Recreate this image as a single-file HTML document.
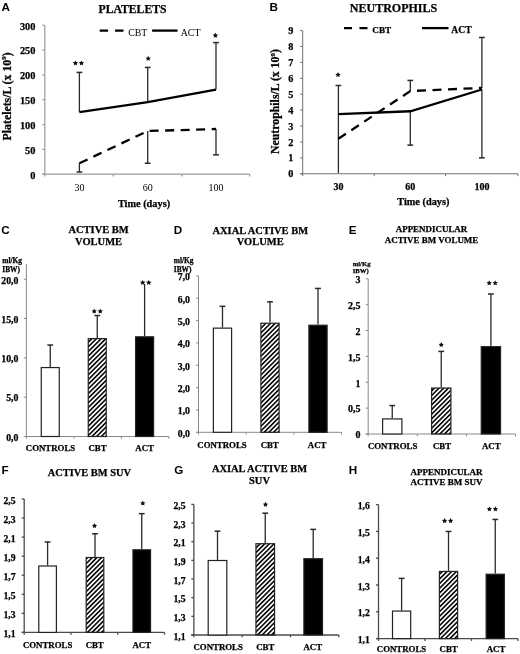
<!DOCTYPE html>
<html><head><meta charset="utf-8"><title>Figure</title>
<style>
html,body{margin:0;padding:0;background:#fff;}
svg{display:block;will-change:transform;}
</style></head>
<body>
<svg width="520" height="654" viewBox="0 0 520 654">
<defs>
<pattern id="hatch" patternUnits="userSpaceOnUse" width="3.3" height="3.3" patternTransform="rotate(45)">
<rect x="0" y="0" width="1.55" height="3.3" fill="#000"/>
</pattern>
</defs>
<rect width="520" height="654" fill="#fff"/>
<text x="1.50" y="11.20" font-family='"Liberation Sans", sans-serif' font-size="11.7" font-weight="bold" text-anchor="start" >A</text>
<text x="132.50" y="12.60" font-family='"Liberation Serif", serif' font-size="11.7" font-weight="bold" text-anchor="middle" stroke="#000" stroke-width="0.25" >PLATELETS</text>
<line x1="44.85" y1="25.22" x2="44.85" y2="176.50" stroke="#9a9a9a" stroke-width="1.2" />
<line x1="42.35" y1="174.20" x2="249.60" y2="174.20" stroke="#9a9a9a" stroke-width="1.2" />
<line x1="42.35" y1="174.20" x2="44.85" y2="174.20" stroke="#9a9a9a" stroke-width="1.2" />
<text x="35.50" y="178.60" font-family='"Liberation Serif", serif' font-size="10.4" font-weight="bold" text-anchor="end" stroke="#000" stroke-width="0.25" >0</text>
<line x1="42.35" y1="149.37" x2="44.85" y2="149.37" stroke="#9a9a9a" stroke-width="1.2" />
<text x="35.50" y="153.77" font-family='"Liberation Serif", serif' font-size="10.4" font-weight="bold" text-anchor="end" stroke="#000" stroke-width="0.25" >50</text>
<line x1="42.35" y1="124.54" x2="44.85" y2="124.54" stroke="#9a9a9a" stroke-width="1.2" />
<text x="35.50" y="128.94" font-family='"Liberation Serif", serif' font-size="10.4" font-weight="bold" text-anchor="end" stroke="#000" stroke-width="0.25" >100</text>
<line x1="42.35" y1="99.71" x2="44.85" y2="99.71" stroke="#9a9a9a" stroke-width="1.2" />
<text x="35.50" y="104.11" font-family='"Liberation Serif", serif' font-size="10.4" font-weight="bold" text-anchor="end" stroke="#000" stroke-width="0.25" >150</text>
<line x1="42.35" y1="74.88" x2="44.85" y2="74.88" stroke="#9a9a9a" stroke-width="1.2" />
<text x="35.50" y="79.28" font-family='"Liberation Serif", serif' font-size="10.4" font-weight="bold" text-anchor="end" stroke="#000" stroke-width="0.25" >200</text>
<line x1="42.35" y1="50.05" x2="44.85" y2="50.05" stroke="#9a9a9a" stroke-width="1.2" />
<text x="35.50" y="54.45" font-family='"Liberation Serif", serif' font-size="10.4" font-weight="bold" text-anchor="end" stroke="#000" stroke-width="0.25" >250</text>
<line x1="42.35" y1="25.22" x2="44.85" y2="25.22" stroke="#9a9a9a" stroke-width="1.2" />
<text x="35.50" y="29.62" font-family='"Liberation Serif", serif' font-size="10.4" font-weight="bold" text-anchor="end" stroke="#000" stroke-width="0.25" >300</text>
<line x1="113.30" y1="174.20" x2="113.30" y2="176.50" stroke="#9a9a9a" stroke-width="1.2" />
<line x1="181.80" y1="174.20" x2="181.80" y2="176.50" stroke="#9a9a9a" stroke-width="1.2" />
<line x1="249.60" y1="174.20" x2="249.60" y2="176.50" stroke="#9a9a9a" stroke-width="1.2" />
<text x="79.40" y="190.50" font-family='"Liberation Serif", serif' font-size="10" font-weight="normal" text-anchor="middle" >30</text>
<text x="147.70" y="190.50" font-family='"Liberation Serif", serif' font-size="10" font-weight="normal" text-anchor="middle" >60</text>
<text x="216.00" y="190.50" font-family='"Liberation Serif", serif' font-size="10" font-weight="normal" text-anchor="middle" >100</text>
<text x="144.00" y="206.80" font-family='"Liberation Serif", serif' font-size="10.3" font-weight="bold" text-anchor="middle" stroke="#000" stroke-width="0.25" >Time (days)</text>
<text x="11.00" y="96.40" font-family='"Liberation Serif", serif' font-size="11.8" font-weight="bold" text-anchor="middle" stroke="#000" stroke-width="0.25" transform="rotate(-90 11.0 96.4)">Platelets/L (x 10<tspan font-size="7" dy="-4.5">9</tspan><tspan dy="4.5">)</tspan></text>
<line x1="99.70" y1="30.60" x2="124.00" y2="30.60" stroke="#000" stroke-width="2.3" stroke-dasharray="8.4 7"/>
<text x="128.20" y="35.80" font-family='"Liberation Serif", serif' font-size="9.9" font-weight="normal" text-anchor="start" >CBT</text>
<line x1="152.10" y1="30.60" x2="177.50" y2="30.60" stroke="#000" stroke-width="2.3" />
<text x="180.70" y="35.80" font-family='"Liberation Serif", serif' font-size="9.9" font-weight="normal" text-anchor="start" >ACT</text>
<line x1="79.40" y1="112.12" x2="79.40" y2="72.40" stroke="#2a2a2a" stroke-width="1.3" />
<line x1="76.50" y1="72.40" x2="82.30" y2="72.40" stroke="#2a2a2a" stroke-width="1.5" />
<line x1="147.70" y1="102.19" x2="147.70" y2="67.43" stroke="#2a2a2a" stroke-width="1.3" />
<line x1="144.80" y1="67.43" x2="150.60" y2="67.43" stroke="#2a2a2a" stroke-width="1.5" />
<line x1="216.00" y1="89.53" x2="216.00" y2="42.60" stroke="#2a2a2a" stroke-width="1.3" />
<line x1="213.10" y1="42.60" x2="218.90" y2="42.60" stroke="#2a2a2a" stroke-width="1.5" />
<polyline points="79.40,112.12 147.70,102.19 216.00,89.53" fill="none" stroke="#000" stroke-width="2.3"/>
<line x1="79.40" y1="163.27" x2="79.40" y2="171.97" stroke="#2a2a2a" stroke-width="1.3" />
<line x1="76.50" y1="171.97" x2="82.30" y2="171.97" stroke="#2a2a2a" stroke-width="1.5" />
<line x1="147.70" y1="131.00" x2="147.70" y2="163.27" stroke="#2a2a2a" stroke-width="1.3" />
<line x1="144.80" y1="163.27" x2="150.60" y2="163.27" stroke="#2a2a2a" stroke-width="1.5" />
<line x1="216.00" y1="129.01" x2="216.00" y2="154.83" stroke="#2a2a2a" stroke-width="1.3" />
<line x1="213.10" y1="154.83" x2="218.90" y2="154.83" stroke="#2a2a2a" stroke-width="1.5" />
<polyline points="79.40,163.27 147.70,131.00 216.00,129.01" fill="none" stroke="#000" stroke-width="2.3" stroke-dasharray="9 6.5"/>
<polygon points="75.45,60.40 76.27,62.07 78.11,62.33 76.78,63.63 77.10,65.47 75.45,64.60 73.80,65.47 74.12,63.63 72.79,62.33 74.63,62.07" fill="#111"/>
<polygon points="81.45,60.40 82.27,62.07 84.11,62.33 82.78,63.63 83.10,65.47 81.45,64.60 79.80,65.47 80.12,63.63 78.79,62.33 80.63,62.07" fill="#111"/>
<polygon points="148.20,55.80 149.02,57.47 150.86,57.73 149.53,59.03 149.85,60.87 148.20,60.00 146.55,60.87 146.87,59.03 145.54,57.73 147.38,57.47" fill="#111"/>
<polygon points="215.40,32.70 216.22,34.37 218.06,34.63 216.73,35.93 217.05,37.77 215.40,36.90 213.75,37.77 214.07,35.93 212.74,34.63 214.58,34.37" fill="#111"/>
<text x="269.50" y="10.80" font-family='"Liberation Sans", sans-serif' font-size="11.7" font-weight="bold" text-anchor="start" >B</text>
<text x="393.50" y="12.40" font-family='"Liberation Serif", serif' font-size="12.0" font-weight="bold" text-anchor="middle" stroke="#000" stroke-width="0.25" >NEUTROPHILS</text>
<line x1="302.70" y1="30.65" x2="302.70" y2="176.05" stroke="#707070" stroke-width="1.0" />
<line x1="300.20" y1="173.75" x2="518.00" y2="173.75" stroke="#707070" stroke-width="1.0" />
<line x1="300.20" y1="173.75" x2="302.70" y2="173.75" stroke="#707070" stroke-width="1.0" />
<text x="293.30" y="177.35" font-family='"Liberation Serif", serif' font-size="10.2" font-weight="bold" text-anchor="end" stroke="#000" stroke-width="0.25" >0</text>
<line x1="300.20" y1="157.85" x2="302.70" y2="157.85" stroke="#707070" stroke-width="1.0" />
<text x="293.30" y="161.45" font-family='"Liberation Serif", serif' font-size="10.2" font-weight="bold" text-anchor="end" stroke="#000" stroke-width="0.25" >1</text>
<line x1="300.20" y1="141.95" x2="302.70" y2="141.95" stroke="#707070" stroke-width="1.0" />
<text x="293.30" y="145.55" font-family='"Liberation Serif", serif' font-size="10.2" font-weight="bold" text-anchor="end" stroke="#000" stroke-width="0.25" >2</text>
<line x1="300.20" y1="126.05" x2="302.70" y2="126.05" stroke="#707070" stroke-width="1.0" />
<text x="293.30" y="129.65" font-family='"Liberation Serif", serif' font-size="10.2" font-weight="bold" text-anchor="end" stroke="#000" stroke-width="0.25" >3</text>
<line x1="300.20" y1="110.15" x2="302.70" y2="110.15" stroke="#707070" stroke-width="1.0" />
<text x="293.30" y="113.75" font-family='"Liberation Serif", serif' font-size="10.2" font-weight="bold" text-anchor="end" stroke="#000" stroke-width="0.25" >4</text>
<line x1="300.20" y1="94.25" x2="302.70" y2="94.25" stroke="#707070" stroke-width="1.0" />
<text x="293.30" y="97.85" font-family='"Liberation Serif", serif' font-size="10.2" font-weight="bold" text-anchor="end" stroke="#000" stroke-width="0.25" >5</text>
<line x1="300.20" y1="78.35" x2="302.70" y2="78.35" stroke="#707070" stroke-width="1.0" />
<text x="293.30" y="81.95" font-family='"Liberation Serif", serif' font-size="10.2" font-weight="bold" text-anchor="end" stroke="#000" stroke-width="0.25" >6</text>
<line x1="300.20" y1="62.45" x2="302.70" y2="62.45" stroke="#707070" stroke-width="1.0" />
<text x="293.30" y="66.05" font-family='"Liberation Serif", serif' font-size="10.2" font-weight="bold" text-anchor="end" stroke="#000" stroke-width="0.25" >7</text>
<line x1="300.20" y1="46.55" x2="302.70" y2="46.55" stroke="#707070" stroke-width="1.0" />
<text x="293.30" y="50.15" font-family='"Liberation Serif", serif' font-size="10.2" font-weight="bold" text-anchor="end" stroke="#000" stroke-width="0.25" >8</text>
<line x1="300.20" y1="30.65" x2="302.70" y2="30.65" stroke="#707070" stroke-width="1.0" />
<text x="293.30" y="34.25" font-family='"Liberation Serif", serif' font-size="10.2" font-weight="bold" text-anchor="end" stroke="#000" stroke-width="0.25" >9</text>
<line x1="374.20" y1="173.75" x2="374.20" y2="176.05" stroke="#707070" stroke-width="1.0" />
<line x1="445.60" y1="173.75" x2="445.60" y2="176.05" stroke="#707070" stroke-width="1.0" />
<line x1="518.00" y1="173.75" x2="518.00" y2="176.05" stroke="#707070" stroke-width="1.0" />
<text x="338.40" y="189.80" font-family='"Liberation Serif", serif' font-size="10" font-weight="bold" text-anchor="middle" stroke="#000" stroke-width="0.25" >30</text>
<text x="410.30" y="189.80" font-family='"Liberation Serif", serif' font-size="10" font-weight="bold" text-anchor="middle" stroke="#000" stroke-width="0.25" >60</text>
<text x="481.90" y="189.80" font-family='"Liberation Serif", serif' font-size="10" font-weight="bold" text-anchor="middle" stroke="#000" stroke-width="0.25" >100</text>
<text x="423.30" y="204.80" font-family='"Liberation Serif", serif' font-size="10.3" font-weight="bold" text-anchor="middle" stroke="#000" stroke-width="0.25" >Time (days)</text>
<text x="279.00" y="101.50" font-family='"Liberation Serif", serif' font-size="11.8" font-weight="bold" text-anchor="middle" stroke="#000" stroke-width="0.25" transform="rotate(-90 279.0 101.5)">Neutrophils/L (x 10<tspan font-size="7" dy="-4.5">9</tspan><tspan dy="4.5">)</tspan></text>
<line x1="344.00" y1="28.10" x2="367.50" y2="28.10" stroke="#000" stroke-width="2.3" stroke-dasharray="8 7.5"/>
<text x="372.30" y="32.70" font-family='"Liberation Serif", serif' font-size="9.2" font-weight="bold" text-anchor="start" stroke="#000" stroke-width="0.25" >CBT</text>
<line x1="422.00" y1="28.10" x2="448.50" y2="28.10" stroke="#000" stroke-width="2.3" />
<text x="451.30" y="32.70" font-family='"Liberation Serif", serif' font-size="9.6" font-weight="bold" text-anchor="start" stroke="#000" stroke-width="0.25" >ACT</text>
<line x1="338.40" y1="172.96" x2="338.40" y2="85.50" stroke="#2a2a2a" stroke-width="1.3" />
<line x1="335.50" y1="85.50" x2="341.30" y2="85.50" stroke="#2a2a2a" stroke-width="1.5" />
<line x1="410.30" y1="111.26" x2="410.30" y2="145.13" stroke="#2a2a2a" stroke-width="1.3" />
<line x1="407.40" y1="145.13" x2="413.20" y2="145.13" stroke="#2a2a2a" stroke-width="1.5" />
<line x1="410.30" y1="91.07" x2="410.30" y2="80.42" stroke="#2a2a2a" stroke-width="1.3" />
<line x1="407.40" y1="80.42" x2="413.20" y2="80.42" stroke="#2a2a2a" stroke-width="1.5" />
<line x1="481.90" y1="87.89" x2="481.90" y2="37.49" stroke="#2a2a2a" stroke-width="1.3" />
<line x1="479.00" y1="37.49" x2="484.80" y2="37.49" stroke="#2a2a2a" stroke-width="1.5" />
<line x1="481.90" y1="89.48" x2="481.90" y2="157.85" stroke="#2a2a2a" stroke-width="1.3" />
<line x1="479.00" y1="157.85" x2="484.80" y2="157.85" stroke="#2a2a2a" stroke-width="1.5" />
<polyline points="338.40,114.12 410.30,111.26 481.90,89.48" fill="none" stroke="#000" stroke-width="2.3"/>
<polyline points="338.40,138.77 410.30,91.07 481.90,87.89" fill="none" stroke="#000" stroke-width="2.3" stroke-dasharray="9 6.5"/>
<polygon points="338.00,72.00 338.82,73.67 340.66,73.93 339.33,75.23 339.65,77.07 338.00,76.20 336.35,77.07 336.67,75.23 335.34,73.93 337.18,73.67" fill="#111"/>
<text x="1.25" y="234.00" font-family='"Liberation Sans", sans-serif' font-size="11.7" font-weight="bold" text-anchor="start" >C</text>
<text x="98.60" y="233.30" font-family='"Liberation Serif", serif' font-size="10.5" font-weight="bold" text-anchor="middle" stroke="#000" stroke-width="0.25" >ACTIVE BM</text>
<text x="98.60" y="244.80" font-family='"Liberation Serif", serif' font-size="10.5" font-weight="bold" text-anchor="middle" stroke="#000" stroke-width="0.25" >VOLUME</text>
<text x="2.30" y="263.00" font-family='"Liberation Serif", serif' font-size="7.4" font-weight="bold" text-anchor="start" stroke="#000" stroke-width="0.25" >ml/Kg</text>
<text x="2.30" y="271.50" font-family='"Liberation Serif", serif' font-size="7.4" font-weight="bold" text-anchor="start" stroke="#000" stroke-width="0.25" >IBW)</text>
<line x1="26.40" y1="264.20" x2="26.40" y2="438.80" stroke="#8a8a8a" stroke-width="1.0" />
<line x1="23.90" y1="436.50" x2="168.90" y2="436.50" stroke="#8a8a8a" stroke-width="1.0" />
<line x1="23.90" y1="436.50" x2="26.40" y2="436.50" stroke="#8a8a8a" stroke-width="1.0" />
<text x="18.40" y="440.80" font-family='"Liberation Serif", serif' font-size="9.8" font-weight="bold" text-anchor="end" stroke="#000" stroke-width="0.25" >0,0</text>
<line x1="23.90" y1="397.18" x2="26.40" y2="397.18" stroke="#8a8a8a" stroke-width="1.0" />
<text x="18.40" y="401.48" font-family='"Liberation Serif", serif' font-size="9.8" font-weight="bold" text-anchor="end" stroke="#000" stroke-width="0.25" >5,0</text>
<line x1="23.90" y1="357.85" x2="26.40" y2="357.85" stroke="#8a8a8a" stroke-width="1.0" />
<text x="18.40" y="362.15" font-family='"Liberation Serif", serif' font-size="9.8" font-weight="bold" text-anchor="end" stroke="#000" stroke-width="0.25" >10,0</text>
<line x1="23.90" y1="318.52" x2="26.40" y2="318.52" stroke="#8a8a8a" stroke-width="1.0" />
<text x="18.40" y="322.82" font-family='"Liberation Serif", serif' font-size="9.8" font-weight="bold" text-anchor="end" stroke="#000" stroke-width="0.25" >15,0</text>
<line x1="23.90" y1="279.20" x2="26.40" y2="279.20" stroke="#8a8a8a" stroke-width="1.0" />
<text x="18.40" y="283.50" font-family='"Liberation Serif", serif' font-size="9.8" font-weight="bold" text-anchor="end" stroke="#000" stroke-width="0.25" >20,0</text>
<line x1="73.90" y1="436.50" x2="73.90" y2="438.80" stroke="#8a8a8a" stroke-width="1.0" />
<line x1="121.40" y1="436.50" x2="121.40" y2="438.80" stroke="#8a8a8a" stroke-width="1.0" />
<line x1="168.90" y1="436.50" x2="168.90" y2="438.80" stroke="#8a8a8a" stroke-width="1.0" />
<line x1="50.25" y1="366.97" x2="50.25" y2="345.03" stroke="#2a2a2a" stroke-width="1.3" />
<line x1="47.35" y1="345.03" x2="53.15" y2="345.03" stroke="#2a2a2a" stroke-width="1.5" />
<line x1="97.25" y1="338.03" x2="97.25" y2="315.54" stroke="#2a2a2a" stroke-width="1.3" />
<line x1="94.35" y1="315.54" x2="100.15" y2="315.54" stroke="#2a2a2a" stroke-width="1.5" />
<line x1="144.60" y1="336.22" x2="144.60" y2="283.92" stroke="#2a2a2a" stroke-width="1.3" />
<rect x="41.25" y="367.57" width="18.00" height="68.93" fill="#fff" stroke="#222" stroke-width="1.2"/>
<rect x="88.25" y="338.63" width="18.00" height="97.87" fill="url(#hatch)" stroke="#222" stroke-width="1.2"/>
<rect x="135.60" y="336.82" width="18.00" height="99.68" fill="#000" stroke="#222" stroke-width="1.2"/>
<polygon points="94.25,308.50 95.07,310.17 96.91,310.43 95.58,311.73 95.90,313.57 94.25,312.70 92.60,313.57 92.92,311.73 91.59,310.43 93.43,310.17" fill="#111"/>
<polygon points="100.25,308.50 101.07,310.17 102.91,310.43 101.58,311.73 101.90,313.57 100.25,312.70 98.60,313.57 98.92,311.73 97.59,310.43 99.43,310.17" fill="#111"/>
<polygon points="142.70,279.90 143.52,281.57 145.36,281.83 144.03,283.13 144.35,284.97 142.70,284.10 141.05,284.97 141.37,283.13 140.04,281.83 141.88,281.57" fill="#111"/>
<polygon points="148.70,279.90 149.52,281.57 151.36,281.83 150.03,283.13 150.35,284.97 148.70,284.10 147.05,284.97 147.37,283.13 146.04,281.83 147.88,281.57" fill="#111"/>
<text x="50.50" y="451.30" font-family='"Liberation Serif", serif' font-size="8.8" font-weight="bold" text-anchor="middle" stroke="#000" stroke-width="0.25" >CONTROLS</text>
<text x="97.50" y="451.30" font-family='"Liberation Serif", serif' font-size="8.8" font-weight="bold" text-anchor="middle" stroke="#000" stroke-width="0.25" >CBT</text>
<text x="144.60" y="451.30" font-family='"Liberation Serif", serif' font-size="8.8" font-weight="bold" text-anchor="middle" stroke="#000" stroke-width="0.25" >ACT</text>
<text x="173.75" y="233.75" font-family='"Liberation Sans", sans-serif' font-size="11.7" font-weight="bold" text-anchor="start" >D</text>
<text x="260.25" y="233.60" font-family='"Liberation Serif", serif' font-size="10.5" font-weight="bold" text-anchor="middle" stroke="#000" stroke-width="0.25" >AXIAL ACTIVE BM</text>
<text x="260.25" y="245.30" font-family='"Liberation Serif", serif' font-size="10.5" font-weight="bold" text-anchor="middle" stroke="#000" stroke-width="0.25" >VOLUME</text>
<text x="173.75" y="263.00" font-family='"Liberation Serif", serif' font-size="7.4" font-weight="bold" text-anchor="start" stroke="#000" stroke-width="0.25" >ml/Kg</text>
<text x="173.75" y="271.50" font-family='"Liberation Serif", serif' font-size="7.4" font-weight="bold" text-anchor="start" stroke="#000" stroke-width="0.25" >IBW)</text>
<line x1="198.50" y1="275.90" x2="198.50" y2="434.60" stroke="#8a8a8a" stroke-width="1.0" />
<line x1="196.00" y1="432.30" x2="341.50" y2="432.30" stroke="#8a8a8a" stroke-width="1.0" />
<line x1="196.00" y1="432.30" x2="198.50" y2="432.30" stroke="#8a8a8a" stroke-width="1.0" />
<text x="190.00" y="436.60" font-family='"Liberation Serif", serif' font-size="9.8" font-weight="bold" text-anchor="end" stroke="#000" stroke-width="0.25" >0,0</text>
<line x1="196.00" y1="409.96" x2="198.50" y2="409.96" stroke="#8a8a8a" stroke-width="1.0" />
<text x="190.00" y="414.26" font-family='"Liberation Serif", serif' font-size="9.8" font-weight="bold" text-anchor="end" stroke="#000" stroke-width="0.25" >1,0</text>
<line x1="196.00" y1="387.62" x2="198.50" y2="387.62" stroke="#8a8a8a" stroke-width="1.0" />
<text x="190.00" y="391.92" font-family='"Liberation Serif", serif' font-size="9.8" font-weight="bold" text-anchor="end" stroke="#000" stroke-width="0.25" >2,0</text>
<line x1="196.00" y1="365.28" x2="198.50" y2="365.28" stroke="#8a8a8a" stroke-width="1.0" />
<text x="190.00" y="369.58" font-family='"Liberation Serif", serif' font-size="9.8" font-weight="bold" text-anchor="end" stroke="#000" stroke-width="0.25" >3,0</text>
<line x1="196.00" y1="342.94" x2="198.50" y2="342.94" stroke="#8a8a8a" stroke-width="1.0" />
<text x="190.00" y="347.24" font-family='"Liberation Serif", serif' font-size="9.8" font-weight="bold" text-anchor="end" stroke="#000" stroke-width="0.25" >4,0</text>
<line x1="196.00" y1="320.60" x2="198.50" y2="320.60" stroke="#8a8a8a" stroke-width="1.0" />
<text x="190.00" y="324.90" font-family='"Liberation Serif", serif' font-size="9.8" font-weight="bold" text-anchor="end" stroke="#000" stroke-width="0.25" >5,0</text>
<line x1="196.00" y1="298.26" x2="198.50" y2="298.26" stroke="#8a8a8a" stroke-width="1.0" />
<text x="190.00" y="302.56" font-family='"Liberation Serif", serif' font-size="9.8" font-weight="bold" text-anchor="end" stroke="#000" stroke-width="0.25" >6,0</text>
<line x1="196.00" y1="275.92" x2="198.50" y2="275.92" stroke="#8a8a8a" stroke-width="1.0" />
<text x="190.00" y="280.22" font-family='"Liberation Serif", serif' font-size="9.8" font-weight="bold" text-anchor="end" stroke="#000" stroke-width="0.25" >7,0</text>
<line x1="246.17" y1="432.30" x2="246.17" y2="434.60" stroke="#8a8a8a" stroke-width="1.0" />
<line x1="293.83" y1="432.30" x2="293.83" y2="434.60" stroke="#8a8a8a" stroke-width="1.0" />
<line x1="341.50" y1="432.30" x2="341.50" y2="434.60" stroke="#8a8a8a" stroke-width="1.0" />
<line x1="222.50" y1="327.53" x2="222.50" y2="306.30" stroke="#2a2a2a" stroke-width="1.3" />
<line x1="219.60" y1="306.30" x2="225.40" y2="306.30" stroke="#2a2a2a" stroke-width="1.5" />
<line x1="270.00" y1="322.61" x2="270.00" y2="301.83" stroke="#2a2a2a" stroke-width="1.3" />
<line x1="267.10" y1="301.83" x2="272.90" y2="301.83" stroke="#2a2a2a" stroke-width="1.5" />
<line x1="318.00" y1="324.62" x2="318.00" y2="288.43" stroke="#2a2a2a" stroke-width="1.3" />
<line x1="315.10" y1="288.43" x2="320.90" y2="288.43" stroke="#2a2a2a" stroke-width="1.5" />
<rect x="213.40" y="328.13" width="18.20" height="104.17" fill="#fff" stroke="#222" stroke-width="1.2"/>
<rect x="260.90" y="323.21" width="18.20" height="109.09" fill="url(#hatch)" stroke="#222" stroke-width="1.2"/>
<rect x="308.90" y="325.22" width="18.20" height="107.08" fill="#000" stroke="#222" stroke-width="1.2"/>
<text x="222.00" y="447.80" font-family='"Liberation Serif", serif' font-size="8.8" font-weight="bold" text-anchor="middle" stroke="#000" stroke-width="0.25" >CONTROLS</text>
<text x="269.70" y="447.80" font-family='"Liberation Serif", serif' font-size="8.8" font-weight="bold" text-anchor="middle" stroke="#000" stroke-width="0.25" >CBT</text>
<text x="317.10" y="447.80" font-family='"Liberation Serif", serif' font-size="8.8" font-weight="bold" text-anchor="middle" stroke="#000" stroke-width="0.25" >ACT</text>
<text x="348.70" y="233.80" font-family='"Liberation Sans", sans-serif' font-size="11.7" font-weight="bold" text-anchor="start" >E</text>
<text x="431.50" y="232.00" font-family='"Liberation Serif", serif' font-size="8.95" font-weight="bold" text-anchor="middle" stroke="#000" stroke-width="0.25" >APPENDICULAR</text>
<text x="431.50" y="243.00" font-family='"Liberation Serif", serif' font-size="8.95" font-weight="bold" text-anchor="middle" stroke="#000" stroke-width="0.25" >ACTIVE BM VOLUME</text>
<text x="352.70" y="265.80" font-family='"Liberation Serif", serif' font-size="6.7" font-weight="bold" text-anchor="start" stroke="#000" stroke-width="0.25" >ml/Kg</text>
<text x="352.70" y="272.80" font-family='"Liberation Serif", serif' font-size="6.7" font-weight="bold" text-anchor="start" stroke="#000" stroke-width="0.25" >IBW)</text>
<line x1="368.20" y1="278.80" x2="368.20" y2="436.30" stroke="#8a8a8a" stroke-width="1.0" />
<line x1="365.70" y1="434.00" x2="515.50" y2="434.00" stroke="#8a8a8a" stroke-width="1.0" />
<line x1="365.70" y1="434.00" x2="368.20" y2="434.00" stroke="#8a8a8a" stroke-width="1.0" />
<text x="360.50" y="438.30" font-family='"Liberation Serif", serif' font-size="10.0" font-weight="bold" text-anchor="end" stroke="#000" stroke-width="0.25" >0</text>
<line x1="365.70" y1="408.13" x2="368.20" y2="408.13" stroke="#8a8a8a" stroke-width="1.0" />
<text x="360.50" y="412.44" font-family='"Liberation Serif", serif' font-size="10.0" font-weight="bold" text-anchor="end" stroke="#000" stroke-width="0.25" >0,5</text>
<line x1="365.70" y1="382.27" x2="368.20" y2="382.27" stroke="#8a8a8a" stroke-width="1.0" />
<text x="360.50" y="386.57" font-family='"Liberation Serif", serif' font-size="10.0" font-weight="bold" text-anchor="end" stroke="#000" stroke-width="0.25" >1</text>
<line x1="365.70" y1="356.40" x2="368.20" y2="356.40" stroke="#8a8a8a" stroke-width="1.0" />
<text x="360.50" y="360.70" font-family='"Liberation Serif", serif' font-size="10.0" font-weight="bold" text-anchor="end" stroke="#000" stroke-width="0.25" >1,5</text>
<line x1="365.70" y1="330.54" x2="368.20" y2="330.54" stroke="#8a8a8a" stroke-width="1.0" />
<text x="360.50" y="334.84" font-family='"Liberation Serif", serif' font-size="10.0" font-weight="bold" text-anchor="end" stroke="#000" stroke-width="0.25" >2</text>
<line x1="365.70" y1="304.68" x2="368.20" y2="304.68" stroke="#8a8a8a" stroke-width="1.0" />
<text x="360.50" y="308.98" font-family='"Liberation Serif", serif' font-size="10.0" font-weight="bold" text-anchor="end" stroke="#000" stroke-width="0.25" >2,5</text>
<line x1="365.70" y1="278.81" x2="368.20" y2="278.81" stroke="#8a8a8a" stroke-width="1.0" />
<text x="360.50" y="283.11" font-family='"Liberation Serif", serif' font-size="10.0" font-weight="bold" text-anchor="end" stroke="#000" stroke-width="0.25" >3</text>
<line x1="417.30" y1="434.00" x2="417.30" y2="436.30" stroke="#8a8a8a" stroke-width="1.0" />
<line x1="466.40" y1="434.00" x2="466.40" y2="436.30" stroke="#8a8a8a" stroke-width="1.0" />
<line x1="515.50" y1="434.00" x2="515.50" y2="436.30" stroke="#8a8a8a" stroke-width="1.0" />
<line x1="392.25" y1="418.33" x2="392.25" y2="405.55" stroke="#2a2a2a" stroke-width="1.3" />
<line x1="389.35" y1="405.55" x2="395.15" y2="405.55" stroke="#2a2a2a" stroke-width="1.5" />
<line x1="441.25" y1="387.44" x2="441.25" y2="351.39" stroke="#2a2a2a" stroke-width="1.3" />
<line x1="438.35" y1="351.39" x2="444.15" y2="351.39" stroke="#2a2a2a" stroke-width="1.5" />
<line x1="490.90" y1="346.06" x2="490.90" y2="294.02" stroke="#2a2a2a" stroke-width="1.3" />
<line x1="488.00" y1="294.02" x2="493.80" y2="294.02" stroke="#2a2a2a" stroke-width="1.5" />
<rect x="382.60" y="418.93" width="19.30" height="15.07" fill="#fff" stroke="#222" stroke-width="1.2"/>
<rect x="431.60" y="388.04" width="19.30" height="45.96" fill="url(#hatch)" stroke="#222" stroke-width="1.2"/>
<rect x="481.25" y="346.66" width="19.30" height="87.34" fill="#000" stroke="#222" stroke-width="1.2"/>
<polygon points="441.25,342.00 442.07,343.67 443.91,343.93 442.58,345.23 442.90,347.07 441.25,346.20 439.60,347.07 439.92,345.23 438.59,343.93 440.43,343.67" fill="#111"/>
<polygon points="489.20,280.30 490.02,281.97 491.86,282.23 490.53,283.53 490.85,285.37 489.20,284.50 487.55,285.37 487.87,283.53 486.54,282.23 488.38,281.97" fill="#111"/>
<polygon points="495.20,280.30 496.02,281.97 497.86,282.23 496.53,283.53 496.85,285.37 495.20,284.50 493.55,285.37 493.87,283.53 492.54,282.23 494.38,281.97" fill="#111"/>
<text x="392.60" y="448.80" font-family='"Liberation Serif", serif' font-size="8.8" font-weight="bold" text-anchor="middle" stroke="#000" stroke-width="0.25" >CONTROLS</text>
<text x="442.00" y="448.80" font-family='"Liberation Serif", serif' font-size="8.8" font-weight="bold" text-anchor="middle" stroke="#000" stroke-width="0.25" >CBT</text>
<text x="491.25" y="448.80" font-family='"Liberation Serif", serif' font-size="8.8" font-weight="bold" text-anchor="middle" stroke="#000" stroke-width="0.25" >ACT</text>
<text x="1.60" y="473.50" font-family='"Liberation Sans", sans-serif' font-size="11.7" font-weight="bold" text-anchor="start" >F</text>
<text x="89.40" y="475.50" font-family='"Liberation Serif", serif' font-size="10.45" font-weight="bold" text-anchor="middle" stroke="#000" stroke-width="0.25" >ACTIVE BM SUV</text>
<line x1="24.20" y1="499.00" x2="24.20" y2="634.70" stroke="#4a4a4a" stroke-width="1.3" />
<line x1="21.70" y1="632.40" x2="164.50" y2="632.40" stroke="#4a4a4a" stroke-width="1.3" />
<line x1="21.70" y1="632.40" x2="24.20" y2="632.40" stroke="#4a4a4a" stroke-width="1.3" />
<text x="15.60" y="637.00" font-family='"Liberation Serif", serif' font-size="9.7" font-weight="bold" text-anchor="end" stroke="#000" stroke-width="0.25" >1,1</text>
<line x1="21.70" y1="613.34" x2="24.20" y2="613.34" stroke="#4a4a4a" stroke-width="1.3" />
<text x="15.60" y="617.94" font-family='"Liberation Serif", serif' font-size="9.7" font-weight="bold" text-anchor="end" stroke="#000" stroke-width="0.25" >1,3</text>
<line x1="21.70" y1="594.28" x2="24.20" y2="594.28" stroke="#4a4a4a" stroke-width="1.3" />
<text x="15.60" y="598.88" font-family='"Liberation Serif", serif' font-size="9.7" font-weight="bold" text-anchor="end" stroke="#000" stroke-width="0.25" >1,5</text>
<line x1="21.70" y1="575.22" x2="24.20" y2="575.22" stroke="#4a4a4a" stroke-width="1.3" />
<text x="15.60" y="579.82" font-family='"Liberation Serif", serif' font-size="9.7" font-weight="bold" text-anchor="end" stroke="#000" stroke-width="0.25" >1,7</text>
<line x1="21.70" y1="556.16" x2="24.20" y2="556.16" stroke="#4a4a4a" stroke-width="1.3" />
<text x="15.60" y="560.76" font-family='"Liberation Serif", serif' font-size="9.7" font-weight="bold" text-anchor="end" stroke="#000" stroke-width="0.25" >1,9</text>
<line x1="21.70" y1="537.10" x2="24.20" y2="537.10" stroke="#4a4a4a" stroke-width="1.3" />
<text x="15.60" y="541.70" font-family='"Liberation Serif", serif' font-size="9.7" font-weight="bold" text-anchor="end" stroke="#000" stroke-width="0.25" >2,1</text>
<line x1="21.70" y1="518.04" x2="24.20" y2="518.04" stroke="#4a4a4a" stroke-width="1.3" />
<text x="15.60" y="522.64" font-family='"Liberation Serif", serif' font-size="9.7" font-weight="bold" text-anchor="end" stroke="#000" stroke-width="0.25" >2,3</text>
<line x1="21.70" y1="498.98" x2="24.20" y2="498.98" stroke="#4a4a4a" stroke-width="1.3" />
<text x="15.60" y="503.58" font-family='"Liberation Serif", serif' font-size="9.7" font-weight="bold" text-anchor="end" stroke="#000" stroke-width="0.25" >2,5</text>
<line x1="70.97" y1="632.40" x2="70.97" y2="634.70" stroke="#4a4a4a" stroke-width="1.3" />
<line x1="117.73" y1="632.40" x2="117.73" y2="634.70" stroke="#4a4a4a" stroke-width="1.3" />
<line x1="164.50" y1="632.40" x2="164.50" y2="634.70" stroke="#4a4a4a" stroke-width="1.3" />
<line x1="47.60" y1="565.40" x2="47.60" y2="541.96" stroke="#2a2a2a" stroke-width="1.3" />
<line x1="44.70" y1="541.96" x2="50.50" y2="541.96" stroke="#2a2a2a" stroke-width="1.5" />
<line x1="95.00" y1="556.92" x2="95.00" y2="533.76" stroke="#2a2a2a" stroke-width="1.3" />
<line x1="92.10" y1="533.76" x2="97.90" y2="533.76" stroke="#2a2a2a" stroke-width="1.5" />
<line x1="141.75" y1="549.20" x2="141.75" y2="513.66" stroke="#2a2a2a" stroke-width="1.3" />
<line x1="138.85" y1="513.66" x2="144.65" y2="513.66" stroke="#2a2a2a" stroke-width="1.5" />
<rect x="38.80" y="566.00" width="17.60" height="66.40" fill="#fff" stroke="#222" stroke-width="1.2"/>
<rect x="86.20" y="557.52" width="17.60" height="74.88" fill="url(#hatch)" stroke="#222" stroke-width="1.2"/>
<rect x="132.95" y="549.80" width="17.60" height="82.60" fill="#000" stroke="#222" stroke-width="1.2"/>
<polygon points="94.50,523.00 95.32,524.67 97.16,524.93 95.83,526.23 96.15,528.07 94.50,527.20 92.85,528.07 93.17,526.23 91.84,524.93 93.68,524.67" fill="#111"/>
<polygon points="142.80,500.50 143.62,502.17 145.46,502.43 144.13,503.73 144.45,505.57 142.80,504.70 141.15,505.57 141.47,503.73 140.14,502.43 141.98,502.17" fill="#111"/>
<text x="47.60" y="647.80" font-family='"Liberation Serif", serif' font-size="8.8" font-weight="bold" text-anchor="middle" stroke="#000" stroke-width="0.25" >CONTROLS</text>
<text x="94.70" y="647.80" font-family='"Liberation Serif", serif' font-size="8.8" font-weight="bold" text-anchor="middle" stroke="#000" stroke-width="0.25" >CBT</text>
<text x="141.75" y="647.80" font-family='"Liberation Serif", serif' font-size="8.8" font-weight="bold" text-anchor="middle" stroke="#000" stroke-width="0.25" >ACT</text>
<text x="174.30" y="473.90" font-family='"Liberation Sans", sans-serif' font-size="11.7" font-weight="bold" text-anchor="start" >G</text>
<text x="259.50" y="472.30" font-family='"Liberation Serif", serif' font-size="10.45" font-weight="bold" text-anchor="middle" stroke="#000" stroke-width="0.25" >AXIAL ACTIVE BM</text>
<text x="259.50" y="484.30" font-family='"Liberation Serif", serif' font-size="10.45" font-weight="bold" text-anchor="middle" stroke="#000" stroke-width="0.25" >SUV</text>
<line x1="193.85" y1="504.50" x2="193.85" y2="637.30" stroke="#4a4a4a" stroke-width="1.3" />
<line x1="191.35" y1="635.00" x2="338.80" y2="635.00" stroke="#4a4a4a" stroke-width="1.3" />
<line x1="191.35" y1="635.00" x2="193.85" y2="635.00" stroke="#4a4a4a" stroke-width="1.3" />
<text x="185.50" y="639.60" font-family='"Liberation Serif", serif' font-size="9.7" font-weight="bold" text-anchor="end" stroke="#000" stroke-width="0.25" >1,1</text>
<line x1="191.35" y1="616.34" x2="193.85" y2="616.34" stroke="#4a4a4a" stroke-width="1.3" />
<text x="185.50" y="620.94" font-family='"Liberation Serif", serif' font-size="9.7" font-weight="bold" text-anchor="end" stroke="#000" stroke-width="0.25" >1,3</text>
<line x1="191.35" y1="597.68" x2="193.85" y2="597.68" stroke="#4a4a4a" stroke-width="1.3" />
<text x="185.50" y="602.28" font-family='"Liberation Serif", serif' font-size="9.7" font-weight="bold" text-anchor="end" stroke="#000" stroke-width="0.25" >1,5</text>
<line x1="191.35" y1="579.03" x2="193.85" y2="579.03" stroke="#4a4a4a" stroke-width="1.3" />
<text x="185.50" y="583.63" font-family='"Liberation Serif", serif' font-size="9.7" font-weight="bold" text-anchor="end" stroke="#000" stroke-width="0.25" >1,7</text>
<line x1="191.35" y1="560.37" x2="193.85" y2="560.37" stroke="#4a4a4a" stroke-width="1.3" />
<text x="185.50" y="564.97" font-family='"Liberation Serif", serif' font-size="9.7" font-weight="bold" text-anchor="end" stroke="#000" stroke-width="0.25" >1,9</text>
<line x1="191.35" y1="541.71" x2="193.85" y2="541.71" stroke="#4a4a4a" stroke-width="1.3" />
<text x="185.50" y="546.31" font-family='"Liberation Serif", serif' font-size="9.7" font-weight="bold" text-anchor="end" stroke="#000" stroke-width="0.25" >2,1</text>
<line x1="191.35" y1="523.05" x2="193.85" y2="523.05" stroke="#4a4a4a" stroke-width="1.3" />
<text x="185.50" y="527.65" font-family='"Liberation Serif", serif' font-size="9.7" font-weight="bold" text-anchor="end" stroke="#000" stroke-width="0.25" >2,3</text>
<line x1="191.35" y1="504.39" x2="193.85" y2="504.39" stroke="#4a4a4a" stroke-width="1.3" />
<text x="185.50" y="508.99" font-family='"Liberation Serif", serif' font-size="9.7" font-weight="bold" text-anchor="end" stroke="#000" stroke-width="0.25" >2,5</text>
<line x1="242.17" y1="635.00" x2="242.17" y2="637.30" stroke="#4a4a4a" stroke-width="1.3" />
<line x1="290.48" y1="635.00" x2="290.48" y2="637.30" stroke="#4a4a4a" stroke-width="1.3" />
<line x1="338.80" y1="635.00" x2="338.80" y2="637.30" stroke="#4a4a4a" stroke-width="1.3" />
<line x1="217.50" y1="559.90" x2="217.50" y2="531.17" stroke="#2a2a2a" stroke-width="1.3" />
<line x1="214.60" y1="531.17" x2="220.40" y2="531.17" stroke="#2a2a2a" stroke-width="1.5" />
<line x1="265.25" y1="543.11" x2="265.25" y2="513.16" stroke="#2a2a2a" stroke-width="1.3" />
<line x1="262.35" y1="513.16" x2="268.15" y2="513.16" stroke="#2a2a2a" stroke-width="1.5" />
<line x1="313.20" y1="558.13" x2="313.20" y2="529.40" stroke="#2a2a2a" stroke-width="1.3" />
<line x1="310.30" y1="529.40" x2="316.10" y2="529.40" stroke="#2a2a2a" stroke-width="1.5" />
<rect x="208.20" y="560.50" width="18.60" height="74.50" fill="#fff" stroke="#222" stroke-width="1.2"/>
<rect x="255.95" y="543.71" width="18.60" height="91.29" fill="url(#hatch)" stroke="#222" stroke-width="1.2"/>
<rect x="303.90" y="558.73" width="18.60" height="76.27" fill="#000" stroke="#222" stroke-width="1.2"/>
<polygon points="265.50,501.75 266.32,503.42 268.16,503.68 266.83,504.98 267.15,506.82 265.50,505.95 263.85,506.82 264.17,504.98 262.84,503.68 264.68,503.42" fill="#111"/>
<text x="218.20" y="650.30" font-family='"Liberation Serif", serif' font-size="8.8" font-weight="bold" text-anchor="middle" stroke="#000" stroke-width="0.25" >CONTROLS</text>
<text x="265.30" y="650.30" font-family='"Liberation Serif", serif' font-size="8.8" font-weight="bold" text-anchor="middle" stroke="#000" stroke-width="0.25" >CBT</text>
<text x="312.80" y="650.30" font-family='"Liberation Serif", serif' font-size="8.8" font-weight="bold" text-anchor="middle" stroke="#000" stroke-width="0.25" >ACT</text>
<text x="348.70" y="473.90" font-family='"Liberation Sans", sans-serif' font-size="11.7" font-weight="bold" text-anchor="start" >H</text>
<text x="446.50" y="474.70" font-family='"Liberation Serif", serif' font-size="9.0" font-weight="bold" text-anchor="middle" stroke="#000" stroke-width="0.25" >APPENDICULAR</text>
<text x="446.50" y="485.40" font-family='"Liberation Serif", serif' font-size="9.0" font-weight="bold" text-anchor="middle" stroke="#000" stroke-width="0.25" >ACTIVE BM SUV</text>
<line x1="378.50" y1="504.60" x2="378.50" y2="640.90" stroke="#4a4a4a" stroke-width="1.3" />
<line x1="376.00" y1="638.60" x2="518.00" y2="638.60" stroke="#4a4a4a" stroke-width="1.3" />
<line x1="376.00" y1="638.60" x2="378.50" y2="638.60" stroke="#4a4a4a" stroke-width="1.3" />
<text x="369.80" y="643.20" font-family='"Liberation Serif", serif' font-size="9.7" font-weight="bold" text-anchor="end" stroke="#000" stroke-width="0.25" >1,1</text>
<line x1="376.00" y1="611.80" x2="378.50" y2="611.80" stroke="#4a4a4a" stroke-width="1.3" />
<text x="369.80" y="616.40" font-family='"Liberation Serif", serif' font-size="9.7" font-weight="bold" text-anchor="end" stroke="#000" stroke-width="0.25" >1,2</text>
<line x1="376.00" y1="585.00" x2="378.50" y2="585.00" stroke="#4a4a4a" stroke-width="1.3" />
<text x="369.80" y="589.60" font-family='"Liberation Serif", serif' font-size="9.7" font-weight="bold" text-anchor="end" stroke="#000" stroke-width="0.25" >1,3</text>
<line x1="376.00" y1="558.20" x2="378.50" y2="558.20" stroke="#4a4a4a" stroke-width="1.3" />
<text x="369.80" y="562.80" font-family='"Liberation Serif", serif' font-size="9.7" font-weight="bold" text-anchor="end" stroke="#000" stroke-width="0.25" >1,4</text>
<line x1="376.00" y1="531.40" x2="378.50" y2="531.40" stroke="#4a4a4a" stroke-width="1.3" />
<text x="369.80" y="536.00" font-family='"Liberation Serif", serif' font-size="9.7" font-weight="bold" text-anchor="end" stroke="#000" stroke-width="0.25" >1,5</text>
<line x1="376.00" y1="504.60" x2="378.50" y2="504.60" stroke="#4a4a4a" stroke-width="1.3" />
<text x="369.80" y="509.20" font-family='"Liberation Serif", serif' font-size="9.7" font-weight="bold" text-anchor="end" stroke="#000" stroke-width="0.25" >1,6</text>
<line x1="425.00" y1="638.60" x2="425.00" y2="640.90" stroke="#4a4a4a" stroke-width="1.3" />
<line x1="471.50" y1="638.60" x2="471.50" y2="640.90" stroke="#4a4a4a" stroke-width="1.3" />
<line x1="518.00" y1="638.60" x2="518.00" y2="640.90" stroke="#4a4a4a" stroke-width="1.3" />
<line x1="401.60" y1="610.46" x2="401.60" y2="578.38" stroke="#2a2a2a" stroke-width="1.3" />
<line x1="398.70" y1="578.38" x2="404.50" y2="578.38" stroke="#2a2a2a" stroke-width="1.5" />
<line x1="448.50" y1="570.85" x2="448.50" y2="531.48" stroke="#2a2a2a" stroke-width="1.3" />
<line x1="445.60" y1="531.48" x2="451.40" y2="531.48" stroke="#2a2a2a" stroke-width="1.5" />
<line x1="495.25" y1="573.61" x2="495.25" y2="519.45" stroke="#2a2a2a" stroke-width="1.3" />
<line x1="492.35" y1="519.45" x2="498.15" y2="519.45" stroke="#2a2a2a" stroke-width="1.5" />
<rect x="392.50" y="611.06" width="18.20" height="27.54" fill="#fff" stroke="#222" stroke-width="1.2"/>
<rect x="439.40" y="571.45" width="18.20" height="67.15" fill="url(#hatch)" stroke="#222" stroke-width="1.2"/>
<rect x="486.15" y="574.21" width="18.20" height="64.39" fill="#000" stroke="#222" stroke-width="1.2"/>
<polygon points="444.60,518.10 445.42,519.77 447.26,520.03 445.93,521.33 446.25,523.17 444.60,522.30 442.95,523.17 443.27,521.33 441.94,520.03 443.78,519.77" fill="#111"/>
<polygon points="450.60,518.10 451.42,519.77 453.26,520.03 451.93,521.33 452.25,523.17 450.60,522.30 448.95,523.17 449.27,521.33 447.94,520.03 449.78,519.77" fill="#111"/>
<polygon points="489.40,506.30 490.22,507.97 492.06,508.23 490.73,509.53 491.05,511.37 489.40,510.50 487.75,511.37 488.07,509.53 486.74,508.23 488.58,507.97" fill="#111"/>
<polygon points="495.40,506.30 496.22,507.97 498.06,508.23 496.73,509.53 497.05,511.37 495.40,510.50 493.75,511.37 494.07,509.53 492.74,508.23 494.58,507.97" fill="#111"/>
<text x="401.50" y="652.20" font-family='"Liberation Serif", serif' font-size="8.8" font-weight="bold" text-anchor="middle" stroke="#000" stroke-width="0.25" >CONTROLS</text>
<text x="448.60" y="652.20" font-family='"Liberation Serif", serif' font-size="8.8" font-weight="bold" text-anchor="middle" stroke="#000" stroke-width="0.25" >CBT</text>
<text x="496.00" y="652.20" font-family='"Liberation Serif", serif' font-size="8.8" font-weight="bold" text-anchor="middle" stroke="#000" stroke-width="0.25" >ACT</text>
</svg>
</body></html>
